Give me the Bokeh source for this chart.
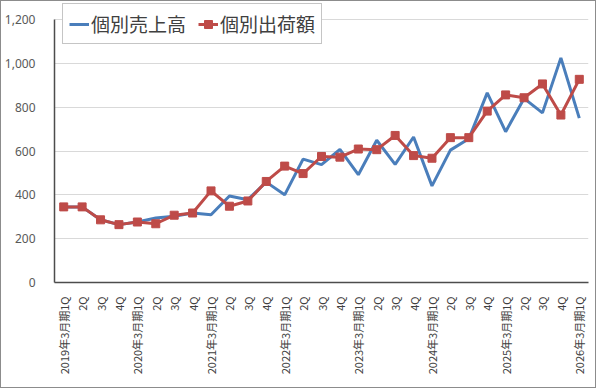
import math
from bokeh.plotting import figure
from bokeh.models import (FixedTicker, NumeralTickFormatter, Legend, LegendItem,
                          Range1d, ColumnDataSource)
from bokeh.embed import file_html
from bokeh.resources import INLINE

# ---- data ----
quarters = [
    "2019年3月期1Q", "2Q", "3Q", "4Q",
    "2020年3月期1Q", "2Q", "3Q", "4Q",
    "2021年3月期1Q", "2Q", "3Q", "4Q",
    "2022年3月期1Q", "2Q", "3Q", "4Q",
    "2023年3月期1Q", "2Q", "3Q", "4Q",
    "2024年3月期1Q", "2Q", "3Q", "4Q",
    "2025年3月期1Q", "2Q", "3Q", "4Q",
    "2026年3月期1Q",
]
sales = [345, 345, 286, 264, 276, 294, 302, 317, 309, 395, 378, 458, 400, 563, 538,
         607, 492, 649, 539, 664, 441, 604, 656, 865, 688, 840, 774, 1025, 750]
shipments = [345, 345, 286, 264, 276, 268, 307, 317, 418, 348, 372, 461, 531, 497, 575,
             572, 609, 606, 671, 579, 567, 661, 661, 782, 856, 843, 906, 764, 927]
y_ticks = [0, 200, 400, 600, 800, 1000, 1200]
series_names = ["個別売上高", "個別出荷額"]

BLUE = "#4A7EBB"
RED = "#BE4B48"
JP = "Noto Sans CJK JP"

# layout (pixels)
FRAME_H = 280          # frame height
AXIS_H = 263           # pixel height of the 0..1200 value axis
y_top = y_ticks[-1] * FRAME_H / AXIS_H

idx = list(range(len(quarters)))
src = ColumnDataSource(dict(x=idx, sales=sales, ship=shipments))

p = figure(width=596, height=388, output_backend="svg", toolbar_location=None,
           x_range=Range1d(-0.5, len(quarters) - 0.5), y_range=Range1d(0, y_top),
           min_border_left=46, min_border_right=9, min_border_top=1, min_border_bottom=107)
p.styles = {"position": "absolute", "left": "0px", "top": "0px",
            "border": "1px solid #8c8c8c"}
p.outline_line_color = None
p.background_fill_color = "white"
p.border_fill_color = "white"

r1 = p.line("x", "sales", source=src, line_color=BLUE, line_width=3)
r2 = p.line("x", "ship", source=src, line_color=RED, line_width=3)
r3 = p.scatter("x", "ship", source=src, marker="square", size=8,
               fill_color=RED, line_color=RED)

# axes
p.xaxis.ticker = FixedTicker(ticks=idx)
p.xaxis.major_label_overrides = {i: q for i, q in enumerate(quarters)}
p.xaxis.major_label_orientation = math.pi / 2
p.xaxis.major_label_text_font = JP
p.xaxis.major_label_text_font_size = "11px"
p.xaxis.major_label_text_color = "#404040"
p.xaxis.major_label_standoff = 8
p.yaxis.ticker = FixedTicker(ticks=y_ticks)
p.yaxis.bounds = (y_ticks[0], y_ticks[-1])
p.yaxis.formatter = NumeralTickFormatter(format="0,0")
p.yaxis.major_label_text_font = "Noto Sans"
p.yaxis.major_label_text_font_size = "12px"
p.yaxis.major_label_text_color = "#595959"
p.yaxis.major_label_standoff = 13
for ax in (p.xaxis, p.yaxis):
    ax.major_tick_line_color = None
    ax.minor_tick_line_color = None
    ax.axis_line_color = "#4d4d4d"
    ax.axis_line_width = 1.5

p.xgrid.grid_line_color = None
p.ygrid.grid_line_color = "#D9D9D9"
p.ygrid.grid_line_width = 1

legend = Legend(items=[LegendItem(label=series_names[0], renderers=[r1]),
                       LegendItem(label=series_names[1], renderers=[r2, r3])],
                location=(8, 238), orientation="horizontal",
                label_text_font=JP, label_text_font_size="19px",
                label_text_color="#404040",
                glyph_width=20, glyph_height=20, label_standoff=2, spacing=12,
                padding=6, margin=0,
                border_line_color="#8c8c8c", border_line_width=1,
                background_fill_color="white", background_fill_alpha=1.0)
p.add_layout(legend)

open("out.html", "w").write(file_html(p, INLINE))
